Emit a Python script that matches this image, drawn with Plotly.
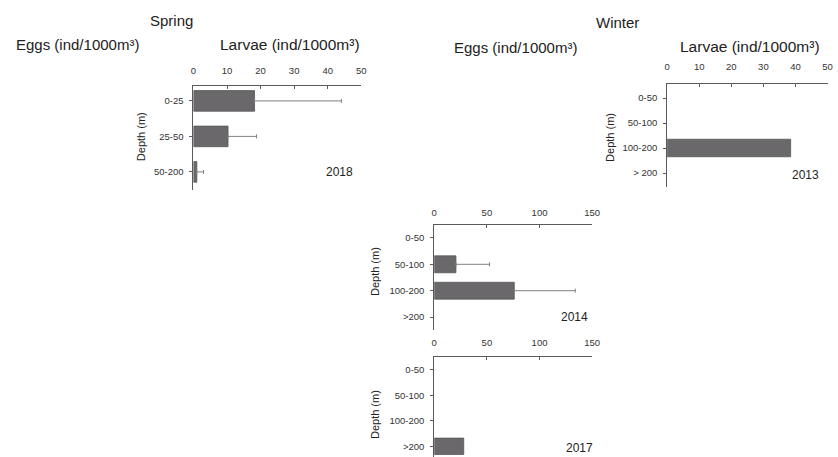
import plotly.graph_objects as go

# ---------------- data ----------------
spring_depths = ["0-25", "25-50", "50-200"]
spring_2018_larvae = [18.2, 10.3, 1.0]
spring_2018_larvae_err = [25.9, 8.5, 2.0]

winter_2013_depths = ["0-50", "50-100", "100-200", "> 200"]
winter_2013_larvae = [None, None, 38.5, None]

winter_depths = ["0-50", "50-100", "100-200", ">200"]
winter_2014_eggs = [None, 20.6, 76.0, None]
winter_2014_eggs_err = [0, 31.9, 58.0, 0]
winter_2017_eggs = [None, None, None, 28.0]

larvae_ticks = [0, 10, 20, 30, 40, 50]
eggs_ticks = [0, 50, 100, 150]

# ---------------- layout helpers ----------------
W, H = 838, 457
FONT = "Liberation Sans, Arial, sans-serif"
BAR_FILL = "#6a686a"
BAR_LINE = "#555555"
AX_COL = "#5a5a5a"
TXT = "#333333"


def px_x(x0, x1):
    return [x0 / W, min(1, x1 / W)]


def px_y(top, bottom):
    return [max(0, 1 - bottom / H), 1 - top / H]


fig = go.Figure()

panels = [
    ("", spring_depths, spring_2018_larvae, spring_2018_larvae_err, 0.58,
     px_x(193, 363), px_y(86, 190), [0, 50], [2.51, -0.42], larvae_ticks, 7),
    ("2", winter_2013_depths, winter_2013_larvae, None, 0.7,
     px_x(673, 835.5), px_y(84, 187), [0, 50], [3.56, -0.56],
     larvae_ticks, 9),
    ("3", winter_depths, winter_2014_eggs, winter_2014_eggs_err, 0.64,
     px_x(437, 597), px_y(225, 330), [0, 150], [3.49, -0.49], eggs_ticks, 4),
    ("4", winter_depths, winter_2017_eggs, None, 0.64,
     px_x(437, 597), px_y(357, 465), [0, 150], [3.42, -0.5], eggs_ticks, 6),
]

for suf, cats, vals, errs, bw, xd, yd, xr, yr, ticks, so in panels:
    tr = dict(
        x=vals, y=cats, orientation="h", width=bw,
        marker=dict(color=BAR_FILL, line=dict(color=BAR_LINE, width=0.8)),
        xaxis="x" + suf, yaxis="y" + suf, hoverinfo="skip",
    )
    if errs is not None:
        tr["error_x"] = dict(type="data", array=errs, symmetric=False,
                             arrayminus=[0] * len(errs), color="#808080",
                             thickness=1, width=2)
    fig.add_trace(go.Bar(**tr))
    xa = dict(
        domain=xd, range=xr, side="top", anchor="y" + suf,
        tickvals=ticks, ticks="inside", ticklen=3, tickcolor=AX_COL,
        showline=True, linecolor=AX_COL, linewidth=1,
        showgrid=False, zeroline=False, fixedrange=True,
        tickfont=dict(family=FONT, size=9.5, color=TXT),
        ticklabelstandoff=so,
    )
    ya = dict(
        domain=yd, range=yr, anchor="x" + suf, type="category",
        categoryorder="array", categoryarray=cats,
        ticks="outside", ticklen=3, tickcolor=AX_COL,
        showline=True, linecolor=AX_COL, linewidth=1,
        showgrid=False, zeroline=False, fixedrange=True,
        tickfont=dict(family=FONT, size=9.5, color=TXT),
        ticklabelstandoff=4,
    )
    fig.update_layout(**{"xaxis" + suf: xa, "yaxis" + suf: ya})


def ann(text, x, y, size, angle=0):
    fig.add_annotation(text=text, x=x / W, y=1 - y / H,
                       xref="paper", yref="paper", showarrow=False,
                       textangle=angle, xanchor="center", yanchor="middle",
                       font=dict(family=FONT, size=size, color="#222222"))


# column / season titles
ann("Spring", 171, 21, 15)
ann("Winter", 623, 22, 15)
ann("Eggs (ind/1000m³)", 75, 45, 15)
ann("Larvae (ind/1000m³)", 291, 45, 15.5)
ann("Eggs (ind/1000m³)", 519, 47, 15)
ann("Larvae (ind/1000m³)", 757, 46, 15.5)

# depth titles
ann("Depth (m)", 140, 137, 11, -90)
ann("Depth (m)", 615, 137, 11, -90)
ann("Depth (m)", 377, 272, 11, -90)
ann("Depth (m)", 377, 415, 11, -90)

# year labels
ann("2018", 341, 172, 12)
ann("2013", 813, 175, 12)
ann("2014", 579, 317, 12)
ann("2017", 584, 448, 12)

fig.update_layout(
    width=W, height=H, margin=dict(l=0, r=0, t=0, b=0),
    paper_bgcolor="white", plot_bgcolor="white", showlegend=False,
    barmode="overlay",
)

fig.write_html(
    "out.html",
    config={"responsive": False, "displayModeBar": False},
    post_script=("document.body.style.margin='0px';"
                 "document.documentElement.style.overflow='hidden';"),
)
